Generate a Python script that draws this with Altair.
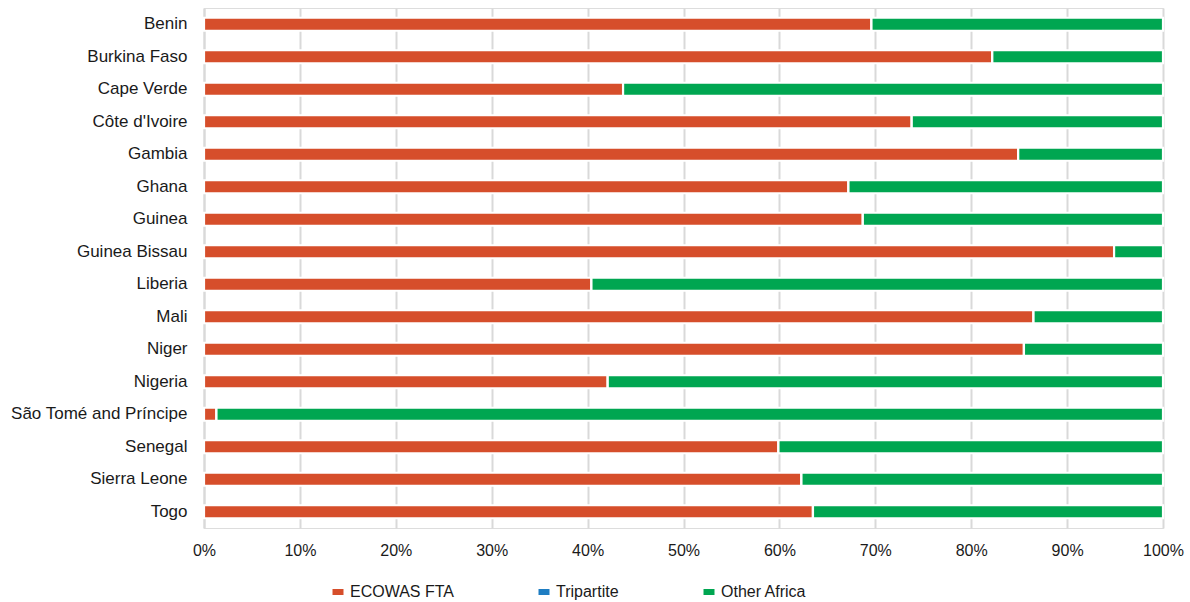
import altair as alt
import pandas as pd

# Share of each country's intra-African trade by agreement grouping (%)
countries = [
    "Benin", "Burkina Faso", "Cape Verde", "Côte d'Ivoire", "Gambia", "Ghana",
    "Guinea", "Guinea Bissau", "Liberia", "Mali", "Niger", "Nigeria",
    "São Tomé and Príncipe", "Senegal", "Sierra Leone", "Togo",
]
ecowas_fta = [69.6, 82.2, 43.7, 73.8, 84.9, 67.2, 68.7, 94.9, 40.4, 86.5, 85.5, 42.1, 1.3, 59.9, 62.3, 63.5]
tripartite = [0, 0, 0, 0, 0, 0, 0, 0, 0, 0, 0, 0, 0, 0, 0, 0]
other_africa = [30.4, 17.8, 56.3, 26.2, 15.1, 32.8, 31.3, 5.1, 59.6, 13.5, 14.5, 57.9, 98.7, 40.1, 37.7, 36.5]

series_names = ["ECOWAS FTA", "Tripartite", "Other Africa"]
series_colors = ["#D64E2B", "#1E7DC2", "#00A651"]

rows = []
for name, values in zip(series_names, [ecowas_fta, tripartite, other_africa]):
    for country, v in zip(countries, values):
        rows.append({"country": country, "series": name, "value": v,
                     "order": series_names.index(name)})
df = pd.DataFrame(rows)

FONT = "Liberation Sans"
GRID = "#d9d9d9"

chart = alt.Chart(df).mark_bar(size=13, stroke="white", strokeWidth=2.2).encode(
    x=alt.X(
        "value:Q",
        stack="normalize",
        scale=alt.Scale(domain=[0, 1], nice=False),
        axis=alt.Axis(
            values=[i / 10 for i in range(11)],
            format=".0%",
            grid=True,
            gridColor=GRID,
            gridWidth=2,
            domain=False,
            ticks=False,
            labelPadding=14,
            labelFontSize=16,
            labelFont=FONT,
            labelColor="#1a1a1a",
            labelFlush=False,
            title=None,
        ),
    ),
    y=alt.Y(
        "country:N",
        sort=countries,
        scale=alt.Scale(paddingInner=0.6, paddingOuter=0.3),
        axis=alt.Axis(
            ticks=False,
            domain=True,
            domainColor=GRID,
            domainWidth=2,
            labelPadding=17,
            labelFontSize=17,
            labelFont=FONT,
            labelColor="#1a1a1a",
            labelLimit=300,
            title=None,
        ),
    ),
    color=alt.Color(
        "series:N",
        scale=alt.Scale(domain=series_names, range=series_colors),
        legend=alt.Legend(
            orient="none",
            legendX=126,
            legendY=576,
            direction="horizontal",
            title=None,
            symbolType="M-1,-0.55H1V0.55H-1Z",
            symbolSize=121,
            symbolStrokeWidth=0,
            labelFontSize=16,
            labelFont=FONT,
            labelColor="#1a1a1a",
            columnPadding=82,
        ),
    ),
    order=alt.Order("order:Q"),
).properties(
    width=959,
    height=520,
    autosize=alt.AutoSizeParams(type="none"),
    padding={"left": 204, "top": 8, "right": 27, "bottom": 74},
).configure_view(strokeWidth=0).configure(background="white")

chart.save("out.html", embed_options={"renderer": "svg", "actions": False})
